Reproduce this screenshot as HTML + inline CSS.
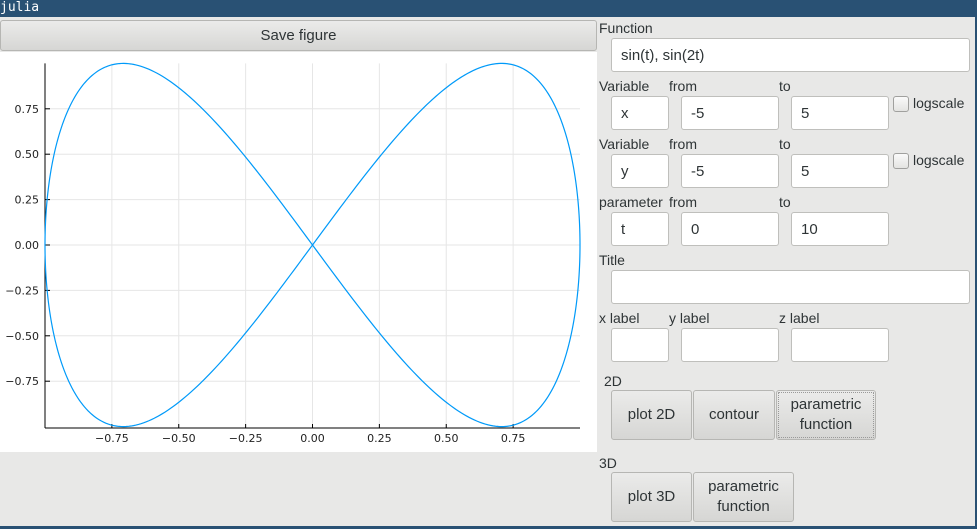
<!DOCTYPE html>
<html><head><meta charset="utf-8"><style>
body{margin:0;width:977px;height:529px;overflow:hidden;background:#e8e8e7;font-family:"Liberation Sans","DejaVu Sans",sans-serif;position:relative}
.a{position:absolute}
.lbl{position:absolute;font-size:14px;color:#2e3436}
.inp{position:absolute;background:#fff;border:1px solid #bfbfbc;border-radius:3px;box-sizing:border-box;font-size:15px;color:#2e3436;padding-left:9px;line-height:34px}
.btn{position:absolute;box-sizing:border-box;border:1px solid #b6b6b3;border-radius:3px;background:linear-gradient(#ebebea,#d6d6d4);font-size:15px;color:#2e3436;display:flex;align-items:center;justify-content:center;text-align:center;line-height:20px}
.chk{position:absolute;width:14px;height:14px;border:1px solid #a0a09e;border-radius:3px;background:linear-gradient(#fafafa,#e4e4e2)}
</style></head><body>
<div class="a" style="left:0;top:0;width:977px;height:17px;background:#295174;color:#fff;font-family:'DejaVu Sans Mono','Liberation Mono',monospace;font-size:13px;line-height:16px">julia</div>
<div class="a" style="left:975px;top:17px;width:2px;height:512px;background:#295174"></div>
<div class="a" style="left:0;top:526px;width:977px;height:3px;background:#295174"></div>
<div class="btn" style="left:0;top:20px;width:597px;height:31px">Save figure</div>
<svg class="a" style="left:0;top:52px" width="597" height="400">
<rect width="597" height="400" fill="#fff"/>
<g id="grid"></g><g id="axes"></g><path id="curve" fill="none" stroke="#009af9" stroke-width="1.2"/>
</svg>
<div class="lbl" style="left:599px;top:20px">Function</div>
<div class="inp" style="left:611px;top:38px;width:359px;height:34px">sin(t), sin(2t)</div>

<div class="lbl" style="left:599px;top:78px">Variable</div>
<div class="lbl" style="left:669px;top:78px">from</div>
<div class="lbl" style="left:779px;top:78px">to</div>
<div class="inp" style="left:611px;top:96px;width:58px;height:34px">x</div>
<div class="inp" style="left:681px;top:96px;width:98px;height:34px">-5</div>
<div class="inp" style="left:791px;top:96px;width:98px;height:34px">5</div>
<div class="chk" style="left:893px;top:96px"></div>
<div class="lbl" style="left:913px;top:95px">logscale</div>

<div class="lbl" style="left:599px;top:136px">Variable</div>
<div class="lbl" style="left:669px;top:136px">from</div>
<div class="lbl" style="left:779px;top:136px">to</div>
<div class="inp" style="left:611px;top:154px;width:58px;height:34px">y</div>
<div class="inp" style="left:681px;top:154px;width:98px;height:34px">-5</div>
<div class="inp" style="left:791px;top:154px;width:98px;height:34px">5</div>
<div class="chk" style="left:893px;top:153px"></div>
<div class="lbl" style="left:913px;top:152px">logscale</div>

<div class="lbl" style="left:599px;top:194px">parameter</div>
<div class="lbl" style="left:669px;top:194px">from</div>
<div class="lbl" style="left:779px;top:194px">to</div>
<div class="inp" style="left:611px;top:212px;width:58px;height:34px">t</div>
<div class="inp" style="left:681px;top:212px;width:98px;height:34px">0</div>
<div class="inp" style="left:791px;top:212px;width:98px;height:34px">10</div>

<div class="lbl" style="left:599px;top:252px">Title</div>
<div class="inp" style="left:611px;top:270px;width:359px;height:34px"></div>

<div class="lbl" style="left:599px;top:310px">x label</div>
<div class="lbl" style="left:669px;top:310px">y label</div>
<div class="lbl" style="left:779px;top:310px">z label</div>
<div class="inp" style="left:611px;top:328px;width:58px;height:34px"></div>
<div class="inp" style="left:681px;top:328px;width:98px;height:34px"></div>
<div class="inp" style="left:791px;top:328px;width:98px;height:34px"></div>

<div class="lbl" style="left:604px;top:373px">2D</div>
<div class="btn" style="left:611px;top:390px;width:81px;height:50px">plot 2D</div>
<div class="btn" style="left:693px;top:390px;width:82px;height:50px">contour</div>
<div class="btn" style="left:776px;top:390px;width:100px;height:50px;outline:1px dotted #999;outline-offset:-3px">parametric<br>function</div>
<div class="lbl" style="left:599px;top:455px">3D</div>
<div class="btn" style="left:611px;top:472px;width:81px;height:50px">plot 3D</div>
<div class="btn" style="left:693px;top:472px;width:101px;height:50px">parametric<br>function</div>

<script>
const xTicks=[-0.75,-0.5,-0.25,0,0.25,0.5,0.75];
const yTicks=[-0.75,-0.5,-0.25,0,0.25,0.5,0.75];
const xTickLabels=["\u22120.75","\u22120.50","\u22120.25","0.00","0.25","0.50","0.75"];
const yTickLabels=["\u22120.75","\u22120.50","\u22120.25","0.00","0.25","0.50","0.75"];
const tStart=0, tEnd=10, nSamples=800;
const xDomain=[-1,1], yDomain=[-1,1];
const NS="http://www.w3.org/2000/svg";
const L=45,R=580,T=11.4,B=374.6;
const sx=v=>L+(v-xDomain[0])/(xDomain[1]-xDomain[0])*(R-L);
const sy=v=>B-(v-yDomain[0])/(yDomain[1]-yDomain[0])*(B-T);
const grid=document.getElementById('grid'),axes=document.getElementById('axes');
function mk(tag,attrs,parent){const e=document.createElementNS(NS,tag);for(const k in attrs)e.setAttribute(k,attrs[k]);parent.appendChild(e);return e;}
xTicks.forEach((v,i)=>{
  const g=mk('line',{x1:sx(v),x2:sx(v),y1:T,y2:376,stroke:'#e6e6e6','stroke-width':1},grid);
  
  
  const tk=mk('line',{x1:sx(v),x2:sx(v),y1:376,y2:372,stroke:'#000'},axes);
  
  
  const t=mk('text',{x:sx(v),y:390,'text-anchor':'middle','font-size':11,fill:'#222','font-family':'DejaVu Sans, Liberation Sans, sans-serif'},axes);
  t.textContent=xTickLabels[i];
  
  
});
yTicks.forEach((v,i)=>{
  const g=mk('line',{x1:L,x2:R,y1:sy(v),y2:sy(v),stroke:'#e6e6e6','stroke-width':1},grid);
  
  
  const tk=mk('line',{x1:L,x2:L+5,y1:sy(v),y2:sy(v),stroke:'#000'},axes);
  
  
  const t=mk('text',{x:39,y:sy(v)+4,'text-anchor':'end','font-size':11,fill:'#222','font-family':'DejaVu Sans, Liberation Sans, sans-serif'},axes);
  t.textContent=yTickLabels[i];
  
  
});
const xa=mk('line',{x1:L,x2:R,y1:376,y2:376,stroke:'#000'},axes);


const ya=mk('line',{x1:L,x2:L,y1:T,y2:376,stroke:'#000'},axes);


let d='';
for(let i=0;i<=nSamples;i++){const t=tStart+(tEnd-tStart)*i/nSamples;d+=(i?'L':'M')+sx(Math.sin(t)).toFixed(2)+','+sy(Math.sin(2*t)).toFixed(2);}
const c=document.getElementById('curve');c.setAttribute('d',d);


</script>
</body></html>
